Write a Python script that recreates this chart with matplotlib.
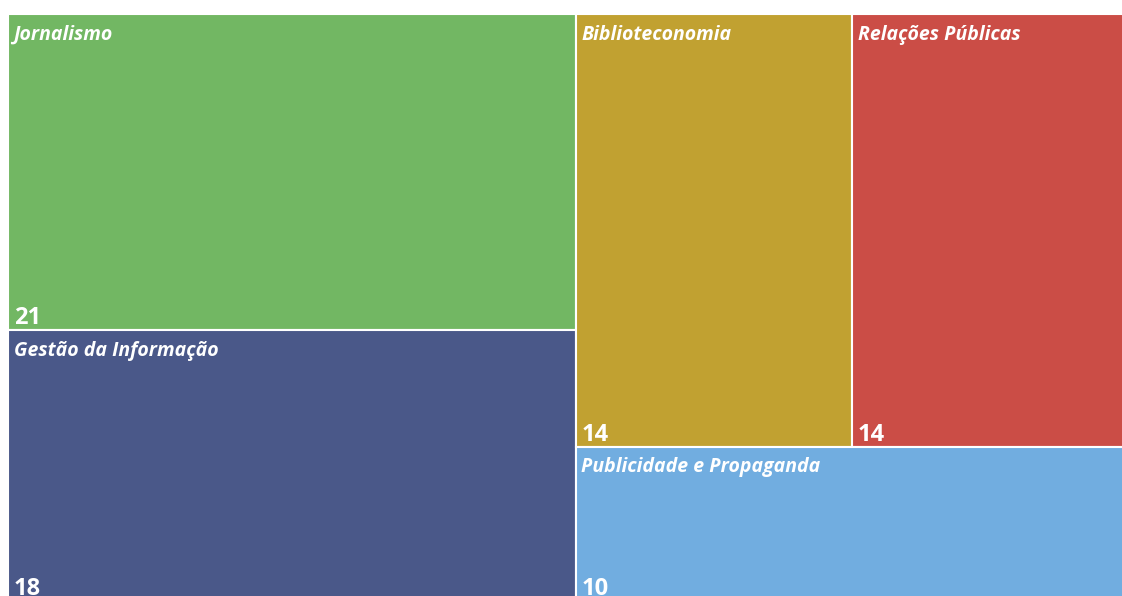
import matplotlib
matplotlib.use('Agg')
import matplotlib.pyplot as plt
from matplotlib.patches import Rectangle

# data
cursos = ['Jornalismo', 'Gestão da Informação', 'Biblioteconomia',
          'Relações Públicas', 'Publicidade e Propaganda']
valores = [21, 18, 14, 14, 10]
cores = ['#72B763', '#4A5889', '#C1A131', '#CB4D46', '#71ADE0']

W, H = 1121.0, 587.0  # drawing area in px (cropped on right/bottom)


def layout(vals, x, y, w, h):
    # left column: first two stacked; right: next two side by side, last below
    tot = sum(vals)
    lw = w * (vals[0] + vals[1]) / tot
    rects = []
    h0 = h * vals[0] / (vals[0] + vals[1])
    rects.append((x, y, lw, h0))
    rects.append((x, y + h0, lw, h - h0))
    rest = vals[2:]
    rw = w - lw
    th = h * (rest[0] + rest[1]) / sum(rest)
    w2 = rw * rest[0] / (rest[0] + rest[1])
    rects.append((x + lw, y, w2, th))
    rects.append((x + lw + w2, y, rw - w2, th))
    rects.append((x + lw, y + th, rw, h - th))
    return rects


fig = plt.figure(figsize=(11.22, 5.96), dpi=100)
ax = fig.add_axes([8 / 1122, -5 / 596, W / 1122, H / 596])
ax.set_xlim(0, W)
ax.set_ylim(H, 0)
ax.axis('off')

for (x, y, w, h), nome, v, c in zip(layout(valores, 0, 0, W, H), cursos, valores, cores):
    ax.add_patch(Rectangle((x, y), w, h, facecolor=c, edgecolor='white', lw=1.5))
    ax.annotate(nome, (x, y), xytext=(4, -18.5), textcoords='offset points',
                ha='left', va='baseline', color='white', fontsize=14,
                fontweight='bold', fontstyle='italic', family='Open Sans')
    ax.annotate(str(v), (x, y + h), xytext=(4, 4.3), textcoords='offset points',
                ha='left', va='baseline', color='white', fontsize=17,
                fontweight='bold', family='Open Sans')

fig.savefig('out.png', dpi=100)
